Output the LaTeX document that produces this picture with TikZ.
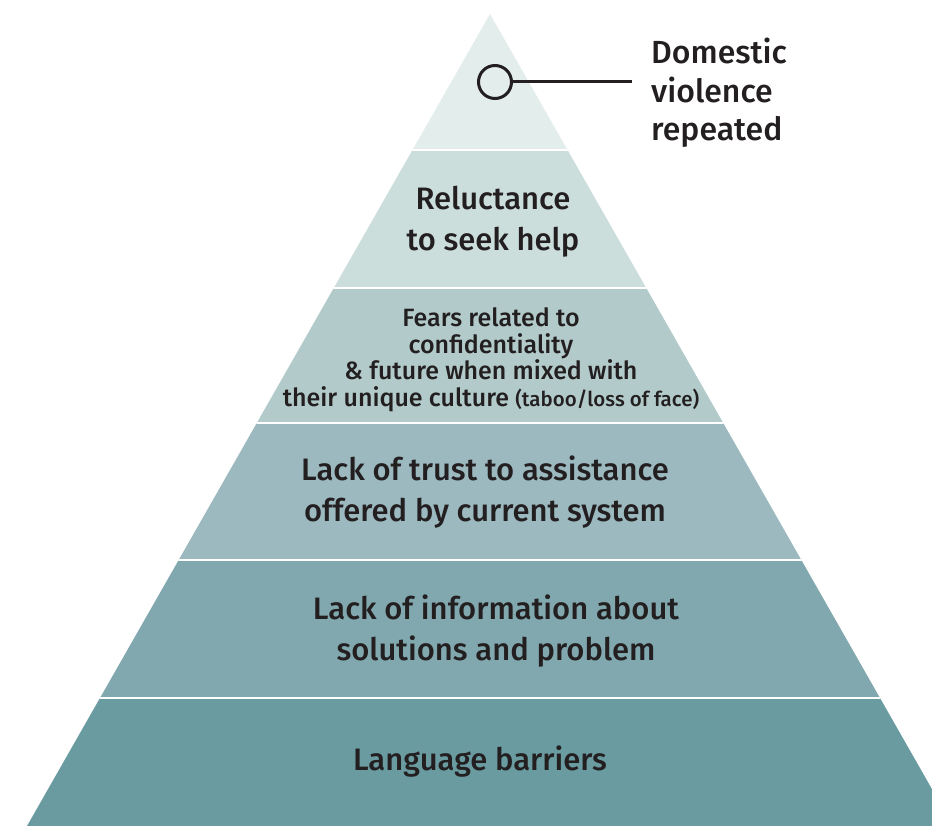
\documentclass[tikz,border=0pt]{standalone}
\usepackage{fontspec}
\setmainfont{Fira Sans Medium}
\definecolor{tierA}{HTML}{E3EDEC}
\definecolor{tierB}{HTML}{CCDEDC}
\definecolor{tierC}{HTML}{B2CBCA}
\definecolor{tierD}{HTML}{9BB9BF}
\definecolor{tierE}{HTML}{80A8AE}
\definecolor{tierF}{HTML}{699BA1}
\definecolor{ink}{HTML}{231F20}
\begin{document}
\begin{tikzpicture}[x=1pt,y=-1pt,
  tierlabel/.style={text=ink,align=center,font=\fontsize{31}{41}\selectfont,inner sep=0pt},
  smalllabel/.style={text=ink,align=center,font=\fontsize{25}{26.5}\selectfont,inner sep=0pt},
  sidelabel/.style={text=ink,align=left,font=\fontsize{32}{38.5}\selectfont,inner sep=0pt,anchor=west},
  divider/.style={white,line width=1.6pt}]
\useasboundingbox (0,0) rectangle (932,826);
% pyramid outline: apex and the two base corners below the page edge
\coordinate (apex) at (490,14);
\coordinate (bl) at (27,826);
\coordinate (br) at (953,826);
\begin{scope}
  \clip (0,0) rectangle (932,826);
  \clip (apex) -- (bl) -- (br) -- cycle;
  \fill[tierA] (0,0)   rectangle (932,150);
  \fill[tierB] (0,150) rectangle (932,288);
  \fill[tierC] (0,288) rectangle (932,423);
  \fill[tierD] (0,423) rectangle (932,560);
  \fill[tierE] (0,560) rectangle (932,698);
  \fill[tierF] (0,698) rectangle (932,826);
  \foreach \y in {150,288,423,560,698}
    \draw[divider] (0,\y) -- (932,\y);
\end{scope}
% tier texts
\node[tierlabel] (t2) at (493,222) {Reluctance\\to seek help};
\node[smalllabel] (t3) at (491,360) {Fears related to\\confidentiality\\\& future when mixed with\\their unique culture {\fontsize{20.5}{26.5}\selectfont(taboo/loss of face)}};
\node[tierlabel] (t4) at (485,492) {Lack of trust to assistance\\offered by current system};
\node[tierlabel] (t5) at (496,631) {Lack of information about\\solutions and problem};
\node[tierlabel] (t6) at (480,762) {Language barriers};
% top marker with callout
\node[circle,draw=ink,line width=3pt,minimum size=33pt,inner sep=0pt] (mark) at (495,82) {};
\coordinate (tip) at (632,82);
\draw[ink,line width=3pt] (mark.east) -- (tip);
\node[sidelabel] (dv) at (651,93) {Domestic\\violence\\repeated};
\end{tikzpicture}
\end{document}
